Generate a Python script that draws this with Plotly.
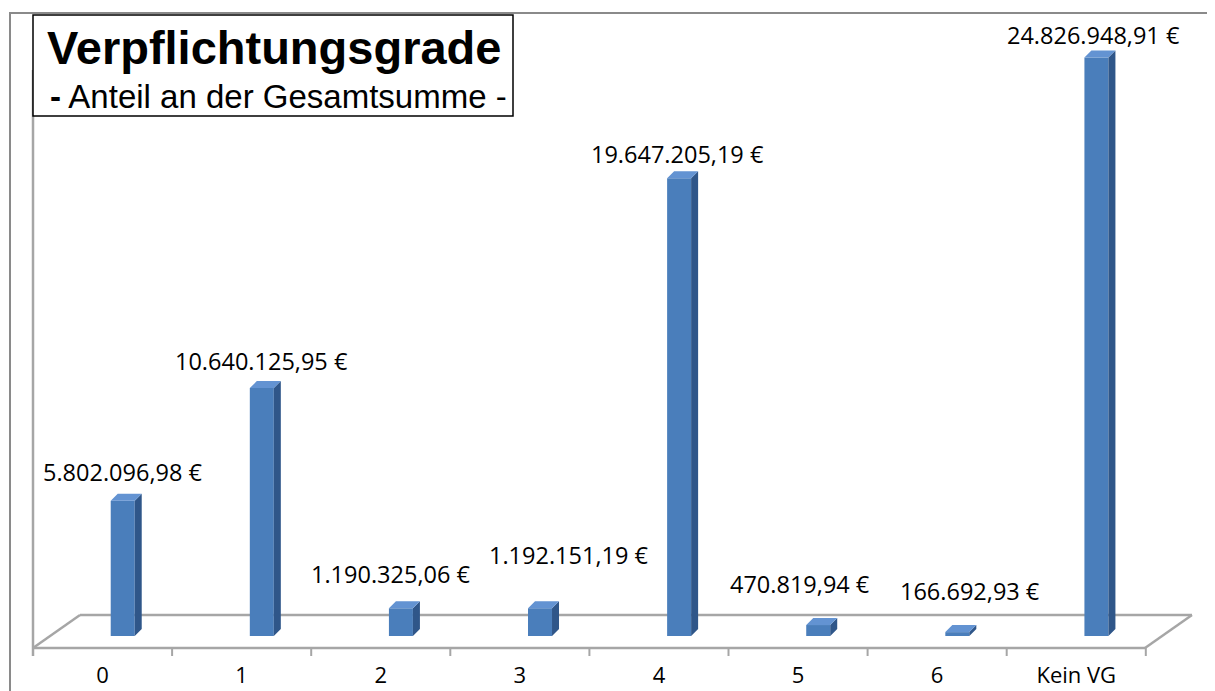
"""
Verpflichtungsgrade - Anteil an der Gesamtsumme
Excel風の3D縦棒グラフをPlotlyで再現
"""

import plotly.graph_objects as go

# データ
categories = ['0', '1', '2', '3', '4', '5', '6', 'Kein VG']
values = [5802096.98, 10640125.95, 1190325.06, 1192151.19,
          19647205.19, 470819.94, 166692.93, 24826948.91]

# ラベル位置の微調整（px）
label_dx = [0, 0, -10, 28, -2, -18, 13, -3]
label_dy = [29, 27, 34, 53, 24, 41, 41, 23]

# 色
FRONT = '#4a7ebb'
SIDE = '#2f5689'
TOP = '#6393d2'
GRID = '#a6a6a6'

# ページ余白（body margin）を差し引いたサイズ
OFF = 8
W, H = 1215 - OFF, 691 - OFF

# プロット領域（ページ上のpx）
PL, PR, PT, PB = 20, 1205, 13, 660

# ピクセル ⇔ 軸座標
X_STEP = 139.1      # 1カテゴリあたりのpx
X_LEFT = 33         # カテゴリ -0.5 の位置
Y_STEP = 23.3e-6    # 1ユーロあたりのpx
Y_ZERO = 636        # 値0の位置


def px_to_x(p):
    return -0.5 + (p - X_LEFT) / X_STEP


def px_to_y(p):
    return (Y_ZERO - p) / Y_STEP


def paper_x(p):
    return (p - PL) / (PR - PL)


def paper_y(p):
    return (PB - p) / (PB - PT)


def fmt_eur(v):
    """ドイツ式の金額表記"""
    s = f'{v:,.2f}'.replace(',', '_').replace('.', ',').replace('_', '.')
    return f'{s} €'


BAR_SHIFT = 0.145
BAR_WIDTH = 0.1725
DX = 7 / X_STEP
DY = 7 / Y_STEP

xs = [i + BAR_SHIFT for i in range(len(categories))]

fig = go.Figure()

# 前面
fig.add_trace(go.Bar(
    x=xs, y=values, base=0, width=BAR_WIDTH,
    marker=dict(color=FRONT, line=dict(width=0)),
    hoverinfo='skip', showlegend=False
))

# 側面と上面
side_x, side_y, top_x, top_y = [], [], [], []
for x, v in zip(xs, values):
    xl = x - BAR_WIDTH / 2
    xr = x + BAR_WIDTH / 2
    side_x += [xr, xr + DX, xr + DX, xr, xr, None]
    side_y += [0, DY, v + DY, v, 0, None]
    top_x += [xl, xl + DX, xr + DX, xr, xl, None]
    top_y += [v, v + DY, v + DY, v, v, None]

fig.add_trace(go.Scatter(
    x=side_x, y=side_y, mode='lines', fill='toself', fillcolor=SIDE,
    line=dict(width=0, color=SIDE), hoverinfo='skip', showlegend=False
))
fig.add_trace(go.Scatter(
    x=top_x, y=top_y, mode='lines', fill='toself', fillcolor=TOP,
    line=dict(width=0, color=TOP), hoverinfo='skip', showlegend=False
))

# 床と軸線
shapes = []
fl = (px_to_x(33), px_to_y(648))
fr = (px_to_x(1145), px_to_y(648))
br = (px_to_x(1192), px_to_y(615))
bl = (px_to_x(80), px_to_y(615))
for (x0, y0), (x1, y1) in [(fl, fr), (fr, br), (br, bl), (bl, fl)]:
    shapes.append(dict(type='line', xref='x', yref='y', x0=x0, y0=y0,
                       x1=x1, y1=y1, line=dict(color=GRID, width=2.5),
                       layer='below'))
for k in range(len(categories) + 1):
    shapes.append(dict(type='line', xref='x', yref='y', x0=k - 0.5, x1=k - 0.5,
                       y0=px_to_y(648), y1=px_to_y(656),
                       line=dict(color=GRID, width=2), layer='below'))
shapes.append(dict(type='line', xref='x', yref='y', x0=-0.5, x1=-0.5,
                   y0=px_to_y(656), y1=px_to_y(70),
                   line=dict(color=GRID, width=2.5), layer='below'))

# グラフエリアの枠
shapes.append(dict(type='rect', xref='paper', yref='paper',
                   x0=paper_x(10), x1=paper_x(1300), y0=paper_y(800), y1=paper_y(13),
                   line=dict(color='#8a8a8a', width=2), layer='below'))

# タイトルの枠
shapes.append(dict(type='rect', xref='paper', yref='paper',
                   x0=paper_x(33), x1=paper_x(513), y0=paper_y(116), y1=paper_y(15),
                   fillcolor='white', line=dict(color='black', width=1.5),
                   layer='above'))

annotations = [
    dict(text='<b>Verpflichtungsgrade</b>', xref='paper', yref='paper',
         x=paper_x(273.5), y=paper_y(47), xanchor='center', yanchor='middle',
         showarrow=False, font=dict(family='Liberation Sans', size=47, color='black')),
    dict(text='<b>-</b> Anteil an der Gesamtsumme -', xref='paper', yref='paper',
         x=paper_x(278), y=paper_y(96), xanchor='center', yanchor='middle',
         showarrow=False, font=dict(family='Liberation Sans', size=33, color='black')),
]

# データラベル
for x, v, dx, dy in zip(xs, values, label_dx, label_dy):
    annotations.append(dict(
        text=fmt_eur(v), x=x, y=v, xref='x', yref='y',
        xanchor='center', yanchor='middle', xshift=dx, yshift=dy,
        showarrow=False, font=dict(family='Open Sans', size=23.5, color='black')
    ))

fig.update_layout(
    width=W, height=H,
    margin=dict(l=PL - OFF, r=W - (PR - OFF), t=PT - OFF, b=H - (PB - OFF),
                autoexpand=False),
    paper_bgcolor='white', plot_bgcolor='white',
    showlegend=False,
    shapes=shapes,
    annotations=annotations,
    xaxis=dict(
        range=[px_to_x(PL), px_to_x(PR)],
        tickvals=list(range(len(categories))), ticktext=categories,
        showgrid=False, zeroline=False, showline=False, ticks='',
        ticklabelstandoff=0, automargin=False,
        tickfont=dict(family='Open Sans', size=22, color='black'),
        fixedrange=True
    ),
    yaxis=dict(
        range=[px_to_y(PB), px_to_y(PT)],
        showgrid=False, zeroline=False, showline=False,
        showticklabels=False, ticks='', fixedrange=True, automargin=False
    ),
)

fig.write_html('out.html')
